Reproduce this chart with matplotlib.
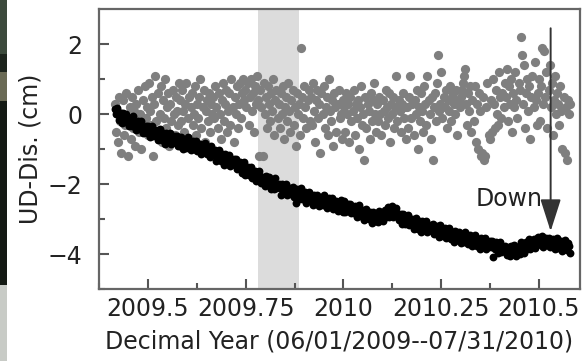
import matplotlib
matplotlib.use("Agg")
import matplotlib.pyplot as plt
from matplotlib.patches import Rectangle
import numpy as np
import pandas as pd

# daily solutions, 06/01/2009 -- 07/31/2010
dates = pd.date_range("2009-06-01", "2010-07-31", freq="D")
start = pd.to_datetime(dates.year.astype(str) + "-01-01")
ylen = np.where(dates.is_leap_year, 366.0, 365.0)
dec_year = dates.year + ((dates - start).days + 0.5) / ylen

# vertical displacement, raw (black), cm
ud_black = [
    # Jun 2009
    0.15, -0.01, 0.18, 0.03, -0.16, -0.11, 0.02, -0.26, 0.03, -0.11, -0.22, 0.00, -0.18, -0.34, -0.11,
    -0.17, -0.35, -0.05, -0.32, -0.27, -0.45, -0.22, -0.20, -0.44, -0.37, -0.21, -0.53, -0.37, -0.48, -0.34,
    # Jul
    -0.53, -0.33, -0.49, -0.65, -0.44, -0.33, -0.63, -0.51, -0.59, -0.46, -0.75, -0.54, -0.44, -0.67, -0.74,
    -0.54, -0.63, -0.85, -0.54, -0.70, -0.61, -0.80, -0.55, -0.86, -0.68, -0.75, -0.64, -0.83, -0.64, -0.91, -0.77,
    # Aug
    -0.90, -0.67, -0.84, -1.00, -0.75, -0.80, -0.97, -0.67, -0.93, -0.87, -1.03, -0.80, -0.77, -1.00, -0.93,
    -0.76, -1.06, -0.89, -1.00, -0.85, -1.13, -0.88, -1.02, -0.83, -0.97, -1.15, -1.09, -0.96, -1.22, -0.92, -1.05,
    # Sep
    -1.08, -1.17, -1.03, -1.33, -1.12, -1.03, -1.26, -1.34, -1.13, -1.23, -1.46, -1.15, -1.32, -1.23, -1.42,
    -1.17, -1.49, -1.31, -1.39, -1.29, -1.47, -1.29, -1.56, -1.43, -1.55, -1.36, -1.52, -1.68, -1.47, -1.37,
    # Oct
    -1.75, -1.53, -1.50, -1.74, -1.67, -1.51, -1.82, -1.66, -1.77, -1.63, -1.91, -1.67, -1.82, -1.64, -1.78,
    -1.97, -1.91, -1.79, -2.06, -1.77, -1.90, -2.02, -1.79, -1.97, -2.13, -1.90, -1.95, -2.13, -1.83, -2.10, -2.04,
    # Nov
    -2.01, -2.10, -2.32, -2.01, -2.17, -2.08, -2.26, -2.01, -2.32, -2.14, -2.21, -2.10, -2.28, -2.09, -2.36,
    -2.22, -2.55, -2.13, -2.29, -2.44, -2.23, -2.12, -2.42, -2.30, -2.38, -2.24, -2.53, -2.32, -2.22, -2.45,
    # Dec
    -2.47, -2.34, -2.61, -2.31, -2.43, -2.54, -2.31, -2.48, -2.64, -2.40, -2.44, -2.61, -2.31, -2.57, -2.51,
    -2.68, -2.44, -2.41, -2.64, -2.57, -2.40, -2.71, -2.53, -2.64, -2.49, -2.77, -2.52, -2.67, -2.47, -2.61, -2.79,
    # Jan 2010
    -2.49, -2.80, -2.62, -2.69, -2.58, -2.76, -2.57, -2.84, -2.70, -2.82, -2.62, -2.78, -2.93, -2.72, -2.61,
    -2.91, -2.79, -2.87, -2.73, -3.02, -2.81, -2.71, -2.94, -3.01, -2.80, -2.89, -3.11, -2.80, -2.96, -2.87, -3.05,
    # Feb
    -2.94, -3.08, -2.76, -2.99, -2.90, -3.05, -2.79, -2.74, -2.94, -2.84, -2.65, -2.93, -2.73, -2.82,
    -2.64, -2.93, -2.70, -2.86, -2.68, -2.84, -3.03, -2.98, -2.87, -3.15, -2.86, -3.00, -3.13, -2.91,
    # Mar
    -2.99, -2.88, -3.18, -3.06, -3.14, -3.00, -3.29, -3.08, -2.98, -3.21, -3.28, -3.07, -3.16, -3.38, -3.07,
    -3.23, -3.14, -3.32, -3.07, -3.38, -3.20, -3.27, -3.16, -3.34, -3.15, -3.42, -3.28, -3.40, -3.20, -3.36, -3.51,
    # Apr
    -3.18, -3.49, -3.32, -3.43, -3.27, -3.55, -3.30, -3.45, -3.26, -3.40, -3.58, -3.52, -3.38, -3.65, -3.35,
    -3.48, -3.59, -3.36, -3.53, -3.68, -3.44, -3.49, -3.66, -3.36, -3.62, -3.56, -3.72, -3.49, -3.46, -3.69,
    # May
    -3.78, -3.57, -3.47, -3.70, -3.77, -3.56, -3.64, -3.86, -3.55, -3.71, -3.62, -3.80, -3.55, -3.86, -3.68,
    -3.75, -3.63, -3.81, -3.62, -4.08, -3.75, -3.87, -3.67, -3.83, -3.98, -3.77, -3.65, -3.95, -3.83, -3.91, -3.77,
    # Jun
    -3.85, -4.02, -3.95, -3.81, -4.07, -3.76, -3.88, -3.98, -3.74, -3.90, -4.05, -3.80, -3.84, -3.99, -3.66,
    -3.90, -3.82, -3.96, -3.71, -3.66, -3.86, -3.77, -3.58, -3.86, -3.67, -3.75, -3.58, -3.84, -3.56, -3.69,
    # Jul
    -3.50, -3.66, -3.56, -3.74, -3.48, -3.79, -3.60, -3.67, -3.55, -3.73, -3.53, -3.80, -3.65, -3.77, -3.56,
    -3.72, -3.87, -3.65, -3.54, -3.83, -3.71, -3.78, -3.64, -3.92, -3.71, -3.60, -3.83, -3.89, -3.68, -3.77, -3.98,
]

# vertical displacement, detrended (gray), cm
ud_gray = [
    # Jun 2009
    0.3, -0.5, 0.1, -0.8, 0.5, -0.2, -1.1, 0.0, 0.4, -0.6, -0.3, 0.6, -1.2, -0.1, 0.2,
    -0.7, 0.5, -0.4, 0.1, -0.9, 0.3, -0.2, 0.7, -0.5, 0.0, -1.0, 0.4, -0.3, 0.8, -0.1,
    # Jul
    0.2, -0.6, 0.9, 0.1, -0.3, 0.5, -1.2, 0.3, 1.1, -0.2, 0.6, -0.5, 0.0, 0.8, -0.8,
    0.4, -0.1, 1.0, -0.4, 0.2, 0.6, -0.9, 0.3, -0.2, 0.7, 0.0, -0.6, 0.5, 0.1, -0.3, 0.9,
    # Aug
    0.4, -0.2, 0.7, 0.1, -0.5, 0.3, 0.9, -0.1, 0.5, -0.7, 0.2, 0.6, -0.3, 0.0, 0.8,
    -0.6, 0.3, -0.1, 0.5, 1.0, -0.4, 0.2, 0.7, -0.8, 0.1, 0.4, -0.2, 0.6, -0.5, 0.3, 0.0,
    # Sep
    0.5, -0.1, 0.8, 0.2, -0.4, 0.6, 0.0, -0.7, 0.4, 0.9, -0.2, 0.3, 0.7, -0.5, 0.1,
    0.6, -0.3, 1.0, 0.2, -0.8, 0.5, 0.0, 0.8, -0.4, 0.3, 0.9, -0.1, 0.6, 1.0, 0.4,
    # Oct
    0.7, 0.2, 0.9, -0.3, 0.5, 1.0, 0.1, 0.6, -0.5, 0.8, 0.3, 1.1, 0.4, -1.2, 0.7,
    0.2, -1.2, 0.9, 0.0, 0.5, -0.4, 0.8, 0.3, -0.2, 0.6, 0.1, 1.0, -0.6, 0.4, 0.7, -0.1,
    # Nov
    0.3, -0.4, 0.6, 0.0, 0.8, -0.7, 0.2, 0.5, -0.2, 0.9, 0.1, -0.5, 0.4, 0.7, -0.3,
    0.2, -0.9, 0.6, 0.0, 0.3, -0.6, 1.9, 0.5, -0.1, 0.8, 0.2, -0.4, 0.4, 0.7, -0.2,
    # Dec
    0.5, -0.3, 0.9, 0.1, -0.8, 0.4, 0.7, -0.1, 0.3, -1.1, 0.6, 0.0, 0.8, -0.4, 0.2,
    0.5, -0.6, 1.0, 0.1, -0.2, 0.4, -0.9, 0.6, 0.2, -0.5, 0.3, 0.7, -0.1, 0.0, -0.7, 0.4,
    # Jan 2010
    0.2, -0.5, 0.6, 0.0, 0.3, -0.8, 0.5, -0.2, 0.1, 0.7, -0.6, 0.3, -0.1, 0.4, -1.0,
    0.2, 0.8, -0.3, 0.0, -1.3, 0.5, -0.4, 0.3, 0.1, -0.7, 0.6, -0.2, 0.4, 0.9, 0.0, -0.5,
    # Feb
    0.3, -0.2, 0.5, 0.0, -0.6, 0.4, 0.1, -0.3, 0.7, 0.2, -0.1, 0.6, -0.8, 0.3,
    0.0, 0.5, -0.4, 0.2, 1.1, -0.2, 0.4, 0.1, -0.5, 0.3, 0.6, -0.1, 0.2, -0.7,
    # Mar
    0.2, -0.4, 0.5, 1.1, -0.1, 0.3, -0.6, 0.4, 0.0, 0.7, -1.0, 0.2, -0.2, 0.6, 0.1,
    -0.5, 0.8, 0.3, -0.3, 1.1, 0.4, 0.0, -0.7, 0.5, -1.3, 0.2, 0.6, -0.2, 0.9, 1.7, 0.1,
    # Apr
    0.3, 1.2, -0.1, 0.5, 0.2, 0.7, -0.4, 0.4, 0.1, 0.8, -0.2, 0.5, 0.6, 0.3, 0.0,
    0.7, -0.6, 0.4, 0.2, 0.5, 0.7, 0.9, 1.1, 1.3, 0.3, -0.3, 0.6, 0.1, 0.8, -0.5,
    # May
    0.4, -0.2, 0.8, -0.8, 0.3, -1.0, 0.6, 0.1, -1.2, -1.1, 0.5, -1.3, -1.2, 0.2, 0.9,
    -0.6, -0.7, 0.4, -0.5, 1.0, 0.3, -0.4, 0.7, 0.0, -0.3, 1.2, 0.5, -0.1, 0.6, 0.2, 0.9,
    # Jun
    0.5, 1.3, -0.2, 0.8, 0.3, 1.0, -0.5, 0.6, 0.2, 1.2, 0.4, -0.1, 0.9, 0.7, 2.2,
    1.7, 0.3, 1.4, -0.4, 0.6, 1.0, 0.1, 0.8, -0.7, 0.5, 1.1, 0.2, 1.5, 0.4, -0.3,
    # Jul
    0.6, 1.0, -0.2, 0.8, 1.9, 0.3, 1.8, 0.5, 1.2, -0.4, 0.7, 1.4, 0.2, 0.9, -0.6,
    0.4, 1.1, 0.0, 0.6, 0.3, -0.3, 0.8, 0.1, -1.0, 0.5, -1.1, 0.2, -1.3, 0.4, 0.0, 0.3,
]

band = (2009.781, 2009.886)
arrow_x, arrow_top, arrow_tip = 2010.53, 2.45, -3.35

fig = plt.figure(figsize=(5.87, 3.61), dpi=100)
ax = fig.add_axes([0.1687, 0.1994, 0.8193, 0.7756])

ax.axvspan(band[0], band[1], color="#dcdcdc", lw=0, zorder=0)
ax.scatter(dec_year, ud_gray, s=44, color="#7f7f7f", lw=0, zorder=2)
ax.scatter(dec_year, ud_black, s=32, color="#000000", lw=0, zorder=3)

ax.annotate("", xy=(arrow_x, arrow_tip), xytext=(arrow_x, arrow_top),
            arrowprops=dict(arrowstyle="-|>,head_length=1.0,head_width=0.32",
                            mutation_scale=20, color="#333333", lw=1.4,
                            shrinkA=0, shrinkB=0),
            zorder=4)
ax.text(2010.338, -2.63, "Down", fontsize=17, color="#222222", zorder=5)

ax.set_xlim(2009.405, 2010.605)
ax.set_ylim(-5, 3)
ax.set_xticks([2009.5, 2009.75, 2010, 2010.25, 2010.5])
ax.set_xticklabels(["2009.5", "2009.75", "2010", "2010.25", "2010.5"])
ax.set_xticks(np.arange(2009.375, 2010.6, 0.125), minor=True)
ax.set_yticks([-4, -2, 0, 2])
ax.set_yticks([-5, -3, -1, 1], minor=True)

ax.tick_params(which="both", direction="in", color="#555555", width=1.5,
               labelsize=17, labelcolor="#222222")
ax.tick_params(which="major", length=7)
ax.tick_params(which="minor", length=4)
ax.tick_params(axis="x", pad=6)
ax.tick_params(axis="y", pad=12)
for sp in ax.spines.values():
    sp.set_color("#666666")
    sp.set_linewidth(1.6)

ax.set_xlabel("Decimal Year (06/01/2009--07/31/2010)", fontsize=17, color="#222222", labelpad=6)
ax.set_ylabel("UD-Dis. (cm)", fontsize=17, color="#222222", labelpad=4)

# strip of the neighbouring panel along the left edge
w = 7 / 587
for y0, h, c in [(0.0, 0.21, "#c8cbc6"), (0.21, 0.57, "#141a14"), (0.72, 0.08, "#6a6a55"),
                 (0.80, 0.05, "#1d241d"), (0.85, 0.15, "#3c4a3c")]:
    fig.patches.append(Rectangle((0, y0), w, h, transform=fig.transFigure,
                                 color=c, lw=0, zorder=0))

fig.savefig("out.png", dpi=100)
